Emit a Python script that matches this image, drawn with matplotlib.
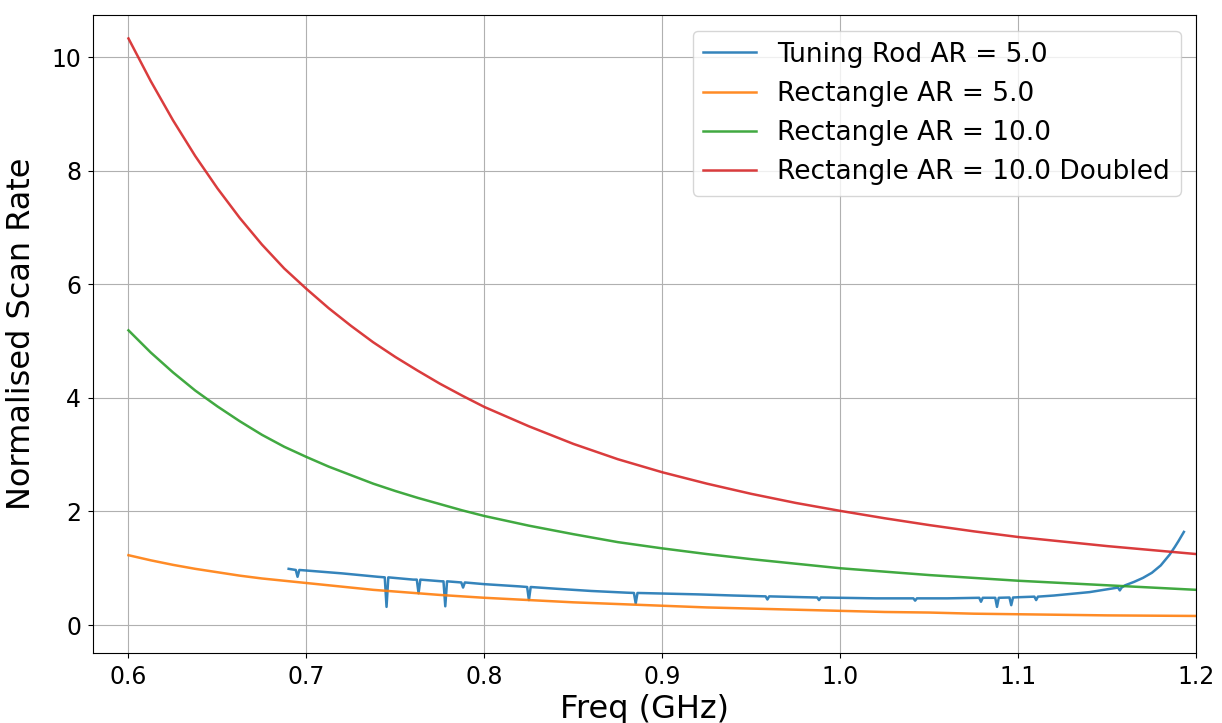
import matplotlib
matplotlib.use("Agg")
import matplotlib.pyplot as plt

freq = [0.600, 0.6125, 0.625, 0.6375, 0.650, 0.6625, 0.675, 0.6875, 0.700, 0.7125,
        0.725, 0.7375, 0.750, 0.7625, 0.775, 0.7875, 0.800, 0.825, 0.850, 0.875,
        0.900, 0.925, 0.950, 0.975, 1.000, 1.025, 1.050, 1.075, 1.100, 1.125,
        1.150, 1.175, 1.200]
rect10_doubled = [10.33, 9.58, 8.89, 8.26, 7.69, 7.17, 6.70, 6.28, 5.92, 5.58,
                  5.27, 4.98, 4.72, 4.48, 4.25, 4.04, 3.84, 3.50, 3.19, 2.92,
                  2.69, 2.49, 2.31, 2.15, 2.01, 1.88, 1.76, 1.65, 1.55, 1.47,
                  1.39, 1.32, 1.25]
rect10 = [5.19, 4.80, 4.45, 4.13, 3.85, 3.59, 3.35, 3.14, 2.96, 2.79,
          2.64, 2.49, 2.36, 2.24, 2.13, 2.02, 1.92, 1.75, 1.60, 1.46,
          1.35, 1.25, 1.16, 1.08, 1.00, 0.94, 0.88, 0.83, 0.78, 0.74,
          0.70, 0.66, 0.62]
rect5 = [1.23, 1.14, 1.06, 0.99, 0.93, 0.87, 0.82, 0.78, 0.74, 0.70,
         0.66, 0.62, 0.59, 0.56, 0.53, 0.505, 0.48, 0.44, 0.40, 0.37,
         0.34, 0.31, 0.29, 0.27, 0.25, 0.23, 0.22, 0.20, 0.19, 0.18,
         0.17, 0.165, 0.16]

rod_freq = [0.690, 0.694, 0.695, 0.696, 0.700, 0.720, 0.740, 0.744, 0.745, 0.746,
            0.760, 0.762, 0.763, 0.764, 0.776, 0.777, 0.778, 0.779, 0.787, 0.788,
            0.789, 0.800, 0.820, 0.824, 0.825, 0.826, 0.840, 0.860, 0.880, 0.884,
            0.885, 0.886, 0.900, 0.920, 0.940, 0.958, 0.959, 0.960, 0.980, 0.987,
            0.988, 0.989, 1.000, 1.020, 1.041, 1.042, 1.043, 1.060, 1.078, 1.079,
            1.080, 1.087, 1.088, 1.089, 1.095, 1.096, 1.097, 1.100, 1.109, 1.110,
            1.111, 1.120, 1.130, 1.140, 1.150, 1.156, 1.157, 1.158, 1.160, 1.165,
            1.170, 1.175, 1.180, 1.185, 1.188, 1.190, 1.193]
rod_vals = [0.99, 0.97, 0.85, 0.97, 0.96, 0.91, 0.85, 0.84, 0.32, 0.84,
            0.80, 0.80, 0.56, 0.80, 0.77, 0.77, 0.33, 0.77, 0.75, 0.66,
            0.75, 0.72, 0.68, 0.67, 0.44, 0.67, 0.64, 0.60, 0.57, 0.565,
            0.38, 0.565, 0.555, 0.54, 0.52, 0.505, 0.45, 0.505, 0.49, 0.485,
            0.44, 0.485, 0.48, 0.47, 0.47, 0.43, 0.47, 0.47, 0.48, 0.41,
            0.48, 0.48, 0.32, 0.48, 0.485, 0.35, 0.485, 0.49, 0.50, 0.44,
            0.50, 0.52, 0.55, 0.58, 0.63, 0.66, 0.61, 0.66, 0.70, 0.76,
            0.83, 0.92, 1.05, 1.24, 1.38, 1.48, 1.64]

labels = ["Tuning Rod AR = 5.0", "Rectangle AR = 5.0",
          "Rectangle AR = 10.0", "Rectangle AR = 10.0 Doubled"]

fig = plt.figure(figsize=(12.22, 7.23), dpi=100)
ax = fig.add_axes([0.076, 0.097, 0.903, 0.882])

lw = 1.8
ax.plot(rod_freq, rod_vals, color="#1f77b4", lw=lw, alpha=0.9, label=labels[0])
ax.plot(freq, rect5, color="#ff7f0e", lw=lw, alpha=0.9, label=labels[1])
ax.plot(freq, rect10, color="#2ca02c", lw=lw, alpha=0.9, label=labels[2])
ax.plot(freq, rect10_doubled, color="#d62728", lw=lw, alpha=0.9, label=labels[3])

ax.set_xlim(0.580, 1.2)
ax.set_ylim(-0.49, 10.74)
ax.set_xticks([0.6, 0.7, 0.8, 0.9, 1.0, 1.1, 1.2])
ax.set_yticks([0, 2, 4, 6, 8, 10])
ax.tick_params(labelsize=17, pad=5)
ax.grid(True, color="#b0b0b0", lw=0.8)
ax.set_xlabel("Freq (GHz)", fontsize=23, labelpad=4)
ax.set_ylabel("Normalised Scan Rate", fontsize=23, labelpad=10)
ax.legend(loc="upper right", fontsize=19, borderaxespad=0.6)

fig.savefig("out.png", dpi=100)
